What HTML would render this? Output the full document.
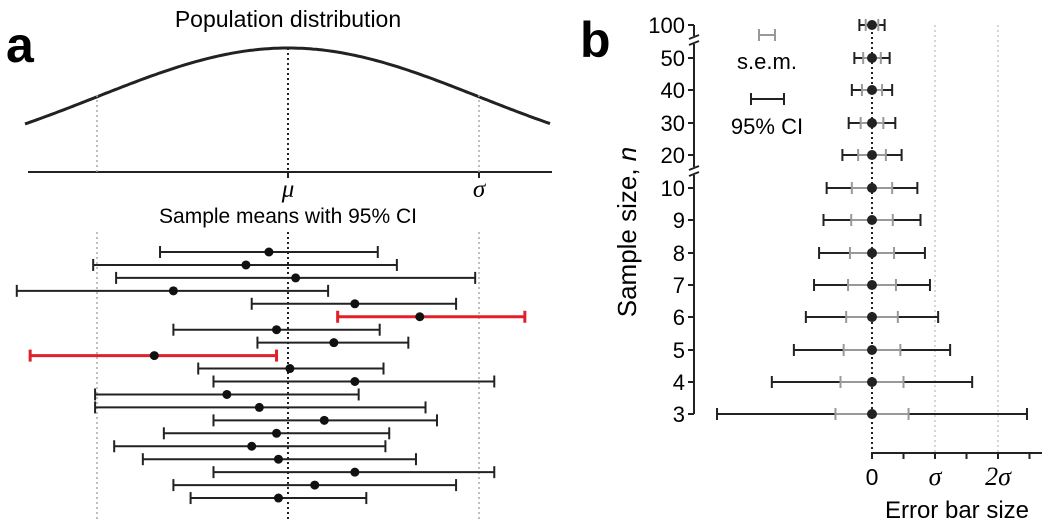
<!DOCTYPE html>
<html><head><meta charset="utf-8"><style>
body{margin:0;background:#fff;}
svg{display:block;font-family:"Liberation Sans",sans-serif;}
</style></head><body>
<svg id="fig" width="1050" height="526" viewBox="0 0 1050 526">
<text x="6" y="62" font-size="50" font-weight="bold">a</text>
<text x="580" y="57" font-size="50" font-weight="bold">b</text>
<text x="288" y="27" font-size="23" text-anchor="middle">Population distribution</text>
<text x="288" y="223" font-size="21" text-anchor="middle">Sample means with 95% CI</text>
<g id="topg"></g><g id="bottom"></g><g id="b"></g>
<text x="767" y="69" font-size="22" text-anchor="middle">s.e.m.</text>
<text x="767" y="134" font-size="22" text-anchor="middle">95% CI</text>
<text transform="translate(636,232) rotate(-90)" font-size="26" text-anchor="middle">Sample size, <tspan font-style="italic">n</tspan></text>
<text x="957" y="518" font-size="24" text-anchor="middle">Error bar size</text>
</svg>
<script>
// Panel a: sample means and 95% CI limits, in units of sigma
const sampleMeans=[-0.10,-0.22,0.04,-0.60,0.35,0.69,-0.06,0.24,-0.70,0.01,0.35,-0.32,-0.15,0.19,-0.06,-0.19,-0.05,0.35,0.14,-0.05];
const ciLow=[-0.67,-1.02,-0.90,-1.42,-0.19,0.26,-0.60,-0.16,-1.35,-0.47,-0.39,-1.01,-1.01,-0.39,-0.65,-0.91,-0.76,-0.39,-0.60,-0.51];
const ciHigh=[0.47,0.57,0.98,0.21,0.88,1.24,0.48,0.63,-0.06,0.50,1.08,0.37,0.72,0.78,0.53,0.51,0.67,1.08,0.88,0.41];
const outliers=[5,8];
// Panel b: sample sizes and half-widths in sigma
const sampleSizes=["100","50","40","30","20","10","9","8","7","6","5","4","3"];
const semHalf=[0.10,0.14,0.16,0.18,0.22,0.32,0.33,0.35,0.38,0.41,0.45,0.50,0.58];
const ciHalf=[0.20,0.28,0.32,0.37,0.47,0.72,0.77,0.84,0.92,1.05,1.24,1.59,2.46];
const xTickLabels=["0","σ","2σ"];

const NS="http://www.w3.org/2000/svg";
function mk(p,t,a){const e=document.createElementNS(NS,t);for(const k in a)e.setAttribute(k,a[k]);p.appendChild(e);return e;}
const ax=v=>288+v*191;
const topG=document.getElementById('topg');
let d="";for(let x=25;x<=550;x+=3){const z=(x-288)/191;d+=(x==25?"M":"L")+x+","+(172-124*Math.exp(-z*z/2)).toFixed(1);}
let c=mk(topG,'path',{d:d,fill:'none',stroke:'#222','stroke-width':3});


let bl=mk(topG,'line',{x1:28,x2:552,y1:172,y2:172,stroke:'#222','stroke-width':2});


[-1,1].forEach(s=>{const l=mk(topG,'line',{x1:ax(s),x2:ax(s),y1:95,y2:172,stroke:'#aaa','stroke-width':1.5,'stroke-dasharray':'2,3'});

});
let ml=mk(topG,'line',{x1:ax(0),x2:ax(0),y1:48,y2:172,stroke:'#222','stroke-width':2,'stroke-dasharray':'2,3'});


[[0,'μ'],[1,'σ']].forEach(([v,t])=>{mk(topG,'line',{x1:ax(v),x2:ax(v),y1:172,y2:178,stroke:'#222','stroke-width':2});
const tx=mk(topG,'text',{x:ax(v),y:197,'font-size':25,'font-style':'italic','text-anchor':'middle','font-family':'Liberation Serif,serif'});tx.textContent=t;

});
const bot=document.getElementById('bottom');
[-1,1].forEach(s=>{const l=mk(bot,'line',{x1:ax(s),x2:ax(s),y1:232,y2:522,stroke:'#aaa','stroke-width':1.5,'stroke-dasharray':'2,3'});

});
let ml2=mk(bot,'line',{x1:ax(0),x2:ax(0),y1:232,y2:522,stroke:'#222','stroke-width':2,'stroke-dasharray':'2,3'});


sampleMeans.forEach((m,i)=>{const y=252+i*12.95;const col=outliers.includes(i)?'#e0202a':'#222';const w=outliers.includes(i)?3:2;
const g=mk(bot,'g',{});


mk(g,'line',{x1:ax(ciLow[i]),x2:ax(ciHigh[i]),y1:y,y2:y,stroke:col,'stroke-width':w});
mk(g,'line',{x1:ax(ciLow[i]),x2:ax(ciLow[i]),y1:y-6,y2:y+6,stroke:col,'stroke-width':w});
mk(g,'line',{x1:ax(ciHigh[i]),x2:ax(ciHigh[i]),y1:y-6,y2:y+6,stroke:col,'stroke-width':w});
mk(g,'circle',{cx:ax(m),cy:y,r:4.5,fill:'#111'});});
const bx=v=>872+v*63;
const by=[25,58,90,123,155,188,220,253,285,317,350,382,414];
const B=document.getElementById('b');
[1,2].forEach(s=>{const l=mk(B,'line',{x1:bx(s),x2:bx(s),y1:25,y2:453,stroke:'#bbb','stroke-width':1.2,'stroke-dasharray':'2,3'});

});
function bar(g,x1,x2,y,col,w){mk(g,'line',{x1:x1,x2:x2,y1:y,y2:y,stroke:col,'stroke-width':w});
mk(g,'line',{x1:x1,x2:x1,y1:y-6,y2:y+6,stroke:col,'stroke-width':w});mk(g,'line',{x1:x2,x2:x2,y1:y-6,y2:y+6,stroke:col,'stroke-width':w});}
sampleSizes.forEach((n,i)=>{const y=by[i];const g=mk(B,'g',{});


bar(g,bx(-ciHalf[i]),bx(ciHalf[i]),y,'#222',2);
bar(g,bx(-semHalf[i]),bx(semHalf[i]),y,'#999',2);
mk(g,'circle',{cx:bx(0),cy:y,r:5,fill:'#222'});
mk(B,'line',{x1:688,x2:694,y1:y,y2:y,stroke:'#222','stroke-width':2});
const t=mk(B,'text',{x:685,y:y+8,'font-size':22,'text-anchor':'end'});t.textContent=n;

});
let zl=mk(B,'line',{x1:bx(0),x2:bx(0),y1:22,y2:453,stroke:'#222','stroke-width':2,'stroke-dasharray':'2,3'});


[[25,36],[44,167],[175,414]].forEach(([a,b])=>{const l=mk(B,'line',{x1:694,x2:694,y1:a,y2:b,stroke:'#222','stroke-width':2});

});
[40,171].forEach(y=>{mk(B,'path',{d:`M689,${y-1} L699,${y-5} M689,${y+5} L699,${y+1}`,stroke:'#222','stroke-width':2,fill:'none'});});
let xa=mk(B,'line',{x1:bx(0),x2:1042,y1:453,y2:453,stroke:'#222','stroke-width':2});


for(let k=0;k<=5;k++)mk(B,'line',{x1:bx(k/2),x2:bx(k/2),y1:453,y2:459,stroke:'#222','stroke-width':2});
xTickLabels.forEach((t,i)=>{const e=mk(B,'text',{x:bx(i),y:485,'font-size':i>0?26:23,'text-anchor':'middle'});e.textContent=t;
if(i>0){e.setAttribute('font-family','Liberation Serif,serif');e.setAttribute('font-style','italic');}

});
const lg=mk(B,'g',{});


bar(lg,759,775,35,'#999',2);bar(lg,751,784,99,'#222',2);
</script>
</body></html>
